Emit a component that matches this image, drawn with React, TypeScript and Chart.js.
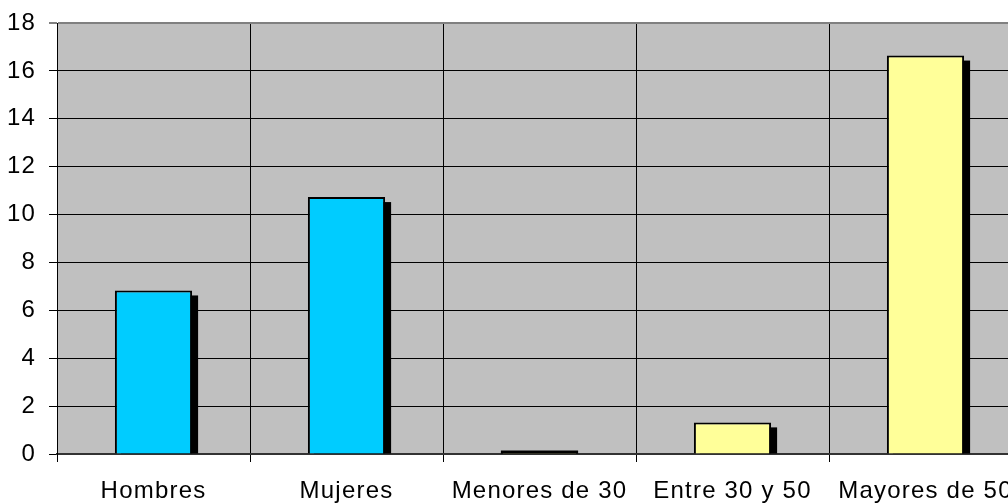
import React, { useEffect, useRef } from "react";
import { Chart, registerables } from "chart.js";

Chart.register(...registerables);

const categories = ["Hombres", "Mujeres", "Menores de 30", "Entre 30 y 50", "Mayores de 50"];
const values = [6.83, 10.73, 0.12, 1.32, 16.64];
const barColors = ["#00CCFF", "#00CCFF", "#FFFF99", "#FFFF99", "#FFFF99"];
const yMin = 0;
const yMax = 18;
const yStep = 2;

const FONT = "'Liberation Sans', Arial, sans-serif";

const plotBg = {
  id: "plotBg",
  beforeDraw(chart: any) {
    const { ctx, chartArea } = chart;
    ctx.letterSpacing = "1.2px";
    ctx.save();
    ctx.fillStyle = "#C0C0C0";
    ctx.fillRect(chartArea.left, chartArea.top, chartArea.right - chartArea.left, chartArea.bottom - chartArea.top);
    ctx.restore();
  },
  afterDraw(chart: any) {
    chart.ctx.letterSpacing = "0px";
  },
};

const barShadow = {
  id: "barShadow",
  beforeDatasetsDraw(chart: any) {
    const { ctx, chartArea } = chart;
    const meta = chart.getDatasetMeta(0);
    ctx.save();
    ctx.beginPath();
    ctx.rect(chartArea.left, chartArea.top, chartArea.right - chartArea.left, chartArea.bottom - chartArea.top);
    ctx.clip();
    ctx.fillStyle = "#000000";
    meta.data.forEach((bar: any) => {
      const left = bar.x - bar.width / 2 + 6;
      const top = bar.y + 5;
      const h = bar.base - top;
      ctx.fillRect(left, top, bar.width, Math.max(h, 0));
    });
    ctx.restore();
  },
  afterDatasetsDraw(chart: any) {
    const { ctx } = chart;
    const meta = chart.getDatasetMeta(0);
    ctx.save();
    ctx.fillStyle = "#000000";
    meta.data.forEach((bar: any) => {
      const h = bar.base - bar.y;
      if (h < 4) {
        ctx.fillRect(bar.x - bar.width / 2, bar.base - 3, bar.width, 3);
      }
    });
    ctx.restore();
  },
};

export default function App() {
  const ref = useRef<HTMLCanvasElement | null>(null);
  useEffect(() => {
    if (!ref.current) return;
    const chart = new Chart(ref.current, {
      type: "bar",
      data: {
        labels: categories,
        datasets: [
          {
            data: values,
            backgroundColor: barColors,
            borderColor: "#000000",
            borderWidth: 2,
            categoryPercentage: 1,
            barPercentage: 0.4,
          },
        ],
      },
      options: {
        responsive: false,
        animation: false,
        layout: { padding: { top: 23, right: 8, left: 0, bottom: 0 } },
        plugins: { legend: { display: false }, tooltip: { enabled: false } },
        scales: {
          x: {
            afterFit(scale: any) {
              scale.height = 49;
              scale.paddingLeft = 0;
              scale.paddingRight = 0;
            },
            grid: { color: "#000000", lineWidth: 1, tickLength: 8, offset: true },
            border: { color: "#333333", width: 2 },
            ticks: { color: "#000000", font: { family: FONT, size: 24 }, padding: 15, maxRotation: 0, autoSkip: false },
          },
          y: {
            min: yMin,
            max: yMax,
            afterFit(scale: any) {
              scale.width = 57;
              scale.paddingTop = 0;
              scale.paddingBottom = 0;
            },
            grid: {
              color: (c: any) => (c.tick && c.tick.value === yMax ? "#808080" : "#000000"),
              lineWidth: (c: any) => (c.tick && c.tick.value === yMax ? 2 : 1),
              tickLength: 8,
            },
            border: { color: "#000000", width: 1 },
            ticks: { stepSize: yStep, color: "#000000", font: { family: FONT, size: 24 }, padding: 13 },
          },
        },
      },
      plugins: [plotBg, barShadow],
    });
    return () => chart.destroy();
  }, []);
  return (
    <div style={{ position: "fixed", left: 0, top: 0, width: 1008, height: 503, overflow: "hidden", background: "#fff" }}>
      <canvas ref={ref} width={1030} height={503} style={{ display: "block" }} />
    </div>
  );
}
